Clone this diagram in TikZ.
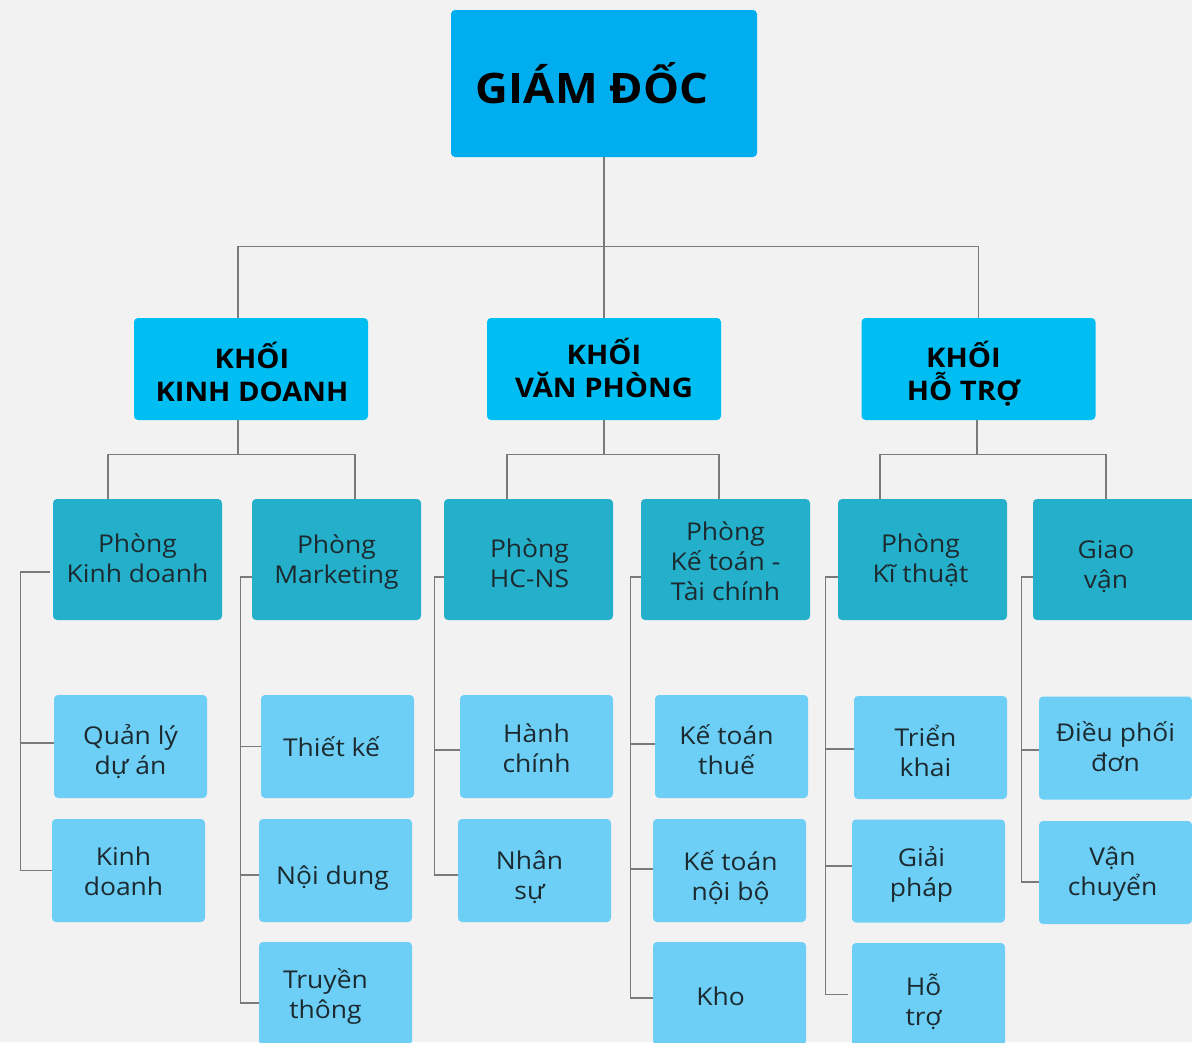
\documentclass[tikz,border=0pt]{standalone}
\usepackage{fontspec}
\setmainfont{Open Sans}[FakeStretch=1.08]
\definecolor{cBg}{HTML}{F2F2F2}
\definecolor{cTop}{HTML}{00AEEF}
\definecolor{cBlk}{HTML}{00BEF2}
\definecolor{cDept}{HTML}{24B0CA}
\definecolor{cUnit}{HTML}{6DCFF6}
\definecolor{cLine}{HTML}{7A7A7A}
\definecolor{cTxt}{HTML}{1C2A30}
% #1 style, #2 name, #3 position, #4 text shift, #5 text
\newcommand{\orgbox}[5]{%
  \node[#1] (#2) at (#3) {};
  \node[#1txt,#4] (#2t) at (#2) {#5};}
\begin{document}
\begin{tikzpicture}[x=1pt,y=-1pt,
  boxB/.style={rectangle, rounded corners=4pt, inner sep=0pt},
  txtB/.style={inner sep=0pt, align=center, text=cTxt},
  topB/.style={boxB, fill=cTop, minimum width=306pt, minimum height=147pt},
  topBtxt/.style={txtB, text=black, font=\bfseries\fontsize{42}{48}\selectfont},
  blkB/.style={boxB, fill=cBlk, minimum width=234pt, minimum height=102pt},
  blkBtxt/.style={txtB, text=black, font=\bfseries\fontsize{27}{33}\selectfont},
  deptB/.style={boxB, fill=cDept, minimum width=169pt, minimum height=121pt},
  deptBtxt/.style={txtB, font=\fontsize{24.5}{30}\selectfont},
  unitB/.style={boxB, fill=cUnit, minimum width=153pt, minimum height=103pt},
  unitBtxt/.style={txtB, font=\fontsize{24.5}{30}\selectfont},
  conn/.style={draw=cLine, line width=1.3pt}]
\useasboundingbox (0,0) rectangle (1192,1042);
\fill[cBg] (0,0) rectangle (1192,1042);

% level 1
\orgbox{topB}{gd}{604,83.5}{xshift=-12pt}{GIÁM ĐỐC}
% level 2
\orgbox{blkB}{kkd}{251,369}{yshift=-3pt,xshift=1pt}{KHỐI\\KINH DOANH}
\orgbox{blkB}{kvp}{604,369}{yshift=1pt}{KHỐI\\VĂN PHÒNG}
\orgbox{blkB}{kht}{978.5,369}{xshift=-15pt,yshift=-5pt}{KHỐI\\HỖ TRỢ}
% level 3
\orgbox{deptB}{pkd}{137.5,559.5}{yshift=1pt}{Phòng\\Kinh doanh}
\orgbox{deptB}{pmk}{336.5,559.5}{yshift=-3pt}{Phòng\\Marketing}
\orgbox{deptB}{phc}{528.5,559.5}{yshift=-4pt,xshift=1pt}{Phòng\\HC-NS}
\orgbox{deptB}{pkt}{725.5,559.5}{yshift=-2pt}{Phòng\\Kế toán -\\Tài chính}
\orgbox{deptB}{pkth}{922.5,559.5}{yshift=-1pt,xshift=-2pt}{Phòng\\Kĩ thuật}
\orgbox{deptB}{pgv}{1117.5,559.5}{xshift=-11.5pt,yshift=-7pt}{Giao\\vận}
% level 4
\orgbox{unitB}{qlda}{130.5,746.5}{yshift=-5pt}{Quản lý\\dự án}
\orgbox{unitB}{kdn}{128.5,870.5}{xshift=-5pt,yshift=-1pt}{Kinh\\doanh}
\orgbox{unitB}{tk}{337.5,746.5}{xshift=-6pt}{Thiết kế}
\orgbox{unitB}{nd}{335.5,870.5}{xshift=-3pt,yshift=-8pt}{Nội dung}
\orgbox{unitB}{tt}{335.5,993.5}{xshift=-10pt,yshift=-3pt}{Truyền\\thông}
\orgbox{unitB}{hc}{536.5,746.5}{yshift=-2pt}{Hành\\chính}
\orgbox{unitB}{ns}{534.5,870.5}{xshift=-5pt,yshift=-7pt}{Nhân\\sự}
\orgbox{unitB}{ktt}{731.5,746.5}{xshift=-5pt,yshift=-3pt}{Kế toán\\thuế}
\orgbox{unitB}{ktnb}{729.5,870.5}{xshift=1pt,yshift=-7pt}{Kế toán\\nội bộ}
\orgbox{unitB}{kho}{729.5,993.5}{xshift=-9pt,yshift=-3pt}{Kho}
\orgbox{unitB}{trk}{930.5,747.5}{xshift=-5pt,yshift=-3pt}{Triển\\khai}
\orgbox{unitB}{gp}{928.5,871}{xshift=-7pt,yshift=-3pt}{Giải\\pháp}
\orgbox{unitB}{ht}{928.5,994.5}{xshift=-5pt,yshift=-7pt}{Hỗ\\trợ}
\orgbox{unitB}{dpd}{1115.5,748}{yshift=1pt}{Điều phối\\đơn}
\orgbox{unitB}{vc}{1115.5,872.5}{xshift=-3pt,yshift=-2pt}{Vận\\chuyển}

% level 1 -> 2
\draw[conn] (gd.south) -- (kvp.north);
\draw[conn] ([xshift=-13pt]kkd.north) -- ++(0,-71) -| (kht.north);
% level 2 -> 3
\draw[conn] ([xshift=-13pt]kkd.south) -- ++(0,35);
\draw[conn] ([xshift=-29.5pt]pkd.north) -- ++(0,-44) -| ([xshift=18.5pt]pmk.north);
\draw[conn] (kvp.south) -- ++(0,35);
\draw[conn] ([xshift=-21.5pt]phc.north) -- ++(0,-44) -| ([xshift=-6.5pt]pkt.north);
\draw[conn] ([xshift=-1.5pt]kht.south) -- ++(0,35);
\draw[conn] ([xshift=-42.5pt]pkth.north) -- ++(0,-44) -| ([xshift=-11.5pt]pgv.north);
% brackets level 3 -> 4
\draw[conn] ([xshift=-3pt,yshift=-12.5pt]pkd.west) -- ++(-29,0) coordinate (s1) |- (kdn.west);
\draw[conn] (s1 |- 0,743) -- (qlda.west |- 0,743);

\draw[conn] ([yshift=-17.5pt]pmk.west) -- ++(-11,0) coordinate (s2) |- ([yshift=-9.5pt]tt.west);
\draw[conn] (s2 |- tk.west) -- (tk.west);
\draw[conn] (s2 |- 0,875) -- (nd.west |- 0,875);

\draw[conn] ([yshift=-17.5pt]phc.west) -- ++(-9,0) coordinate (s3) |- ([yshift=-4.5pt]ns.west);
\draw[conn] (s3 |- 0,750) -- (hc.west |- 0,750);

\draw[conn] ([yshift=-17.5pt]pkt.west) -- ++(-10,0) coordinate (s4) |- ([yshift=-4.5pt]kho.west);
\draw[conn] (s4 |- 0,744) -- (ktt.west |- 0,744);
\draw[conn] (s4 |- 0,869) -- (ktnb.west |- 0,869);

\draw[conn] ([yshift=-17.5pt]pkth.west) -- ++(-12,0) coordinate (s5) |- ([xshift=-4pt]ht.west);
\draw[conn] (s5 |- 0,749) -- (trk.west |- 0,749);
\draw[conn] (s5 |- 0,866) -- (gp.west |- 0,866);

\draw[conn] ([yshift=-17.5pt]pgv.west) -- ++(-11,0) coordinate (s6) |- ([yshift=-9.5pt]vc.west);
\draw[conn] (s6 |- 0,750) -- (dpd.west |- 0,750);
\end{tikzpicture}
\end{document}
